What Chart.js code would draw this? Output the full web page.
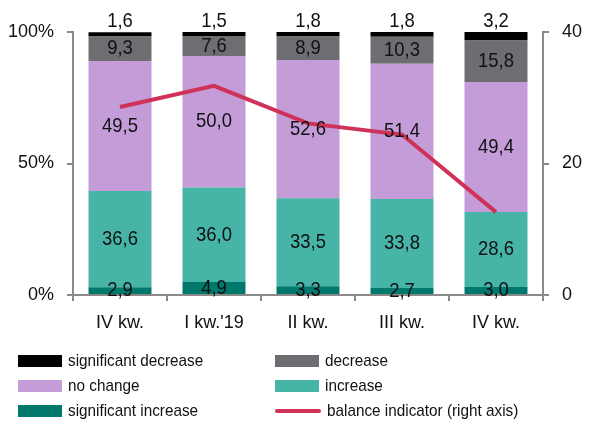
<!DOCTYPE html>
<html>
<head>
<meta charset="utf-8">
<script src="https://cdn.jsdelivr.net/npm/chart.js@4/dist/chart.umd.min.js"></script>
<style>
  html, body { margin: 0; padding: 0; background: #fff; }
  #wrap { position: relative; width: 589px; height: 428px; }
  #legend { position: absolute; left: 0; top: 0; width: 589px; height: 428px; pointer-events: none;
            font-family: "Liberation Sans", Arial, sans-serif; font-size: 17px; color: #111; }
  .item { position: absolute; display: flex; align-items: center; white-space: nowrap; }
  .item .t { display: inline-block; transform: scaleX(0.9); transform-origin: left center; }
  .box { width: 44px; height: 12px; margin-right: 6px; }
  .ln { width: 46px; height: 4px; border-radius: 2px; margin-right: 6px; }
</style>
</head>
<body>
<div id="wrap">
  <canvas id="chart" width="589" height="428"></canvas>
  <div id="legend"></div>
</div>
<script>
const categories = ['IV kw.', "I kw.'19", 'II kw.', 'III kw.', 'IV kw.'];
const sigIncrease = [2.9, 4.9, 3.3, 2.7, 3.0];
const increase = [36.6, 36.0, 33.5, 33.8, 28.6];
const noChange = [49.5, 50.0, 52.6, 51.4, 49.4];
const decrease = [9.3, 7.6, 8.9, 10.3, 15.8];
const sigDecrease = [1.6, 1.5, 1.8, 1.8, 3.2];
const balance = [28.6, 31.8, 26.1, 24.4, 12.6];

const FONT = '"Liberation Sans", Arial, sans-serif';
const axisGray = '#8a8a8a';

function barSet(label, data, color) {
    return {
        type: 'bar',
        label: label,
        data: data,
        backgroundColor: color,
        borderWidth: 0,
        yAxisID: 'y',
        stack: 's',
        categoryPercentage: 1,
        barPercentage: 0.67,
        order: 2
    };
}

// value labels drawn on the bars (slightly narrowed like the original)
const valueLabels = {
    id: 'valueLabels',
    afterDatasetsDraw(chart) {
        const ctx = chart.ctx;
        ctx.save();
        ctx.font = '21px ' + FONT;
        ctx.fillStyle = '#111';
        ctx.textAlign = 'center';
        ctx.textBaseline = 'middle';
        chart.data.datasets.forEach((ds, i) => {
            if (ds.type !== 'bar') return;
            const meta = chart.getDatasetMeta(i);
            meta.data.forEach((el, j) => {
                const p = el.getProps(['x', 'y', 'base'], true);
                const txt = ds.data[j].toFixed(1).replace('.', ',');
                let y = (p.y + p.base) / 2;
                if (ds.label === 'significant decrease') y = p.y - 11;
                ctx.save();
                ctx.translate(p.x, y);
                ctx.scale(0.88, 1);
                ctx.fillText(txt, 0, 0);
                ctx.restore();
            });
        });
        ctx.restore();
    }
};

const chart = new Chart(document.getElementById('chart').getContext('2d'), {
    data: {
        labels: categories,
        datasets: [
            {
                type: 'line',
                label: 'balance indicator (right axis)',
                data: balance,
                borderColor: '#cf3158',
                borderWidth: 4,
                pointRadius: 0,
                tension: 0,
                yAxisID: 'y2',
                order: 1
            },
            barSet('significant increase', sigIncrease, '#00786c'),
            barSet('increase', increase, '#46b5a7'),
            barSet('no change', noChange, '#c49cd8'),
            barSet('decrease', decrease, '#6e6e72'),
            barSet('significant decrease', sigDecrease, '#000000')
        ]
    },
    options: {
        responsive: false,
        animation: false,
        layout: {
            padding: { top: 32, left: 0, right: 0, bottom: 93 }
        },
        plugins: {
            legend: { display: false },
            tooltip: { enabled: false }
        },
        scales: {
            x: {
                stacked: true,
                offset: true,
                grid: {
                    offset: true,
                    drawOnChartArea: false,
                    color: axisGray,
                    lineWidth: 2,
                    tickLength: 6
                },
                border: { color: axisGray, width: 2 },
                ticks: {
                    color: '#111',
                    padding: 11,
                    font: { family: FONT, size: 18 }
                },
                afterFit(scale) { scale.height = 40; }
            },
            y: {
                position: 'left',
                stacked: true,
                min: 0,
                max: 100,
                grid: {
                    drawOnChartArea: false,
                    color: axisGray,
                    lineWidth: 2,
                    tickLength: 6
                },
                border: { color: axisGray, width: 2 },
                ticks: {
                    stepSize: 50,
                    color: '#111',
                    padding: 13,
                    font: { family: FONT, size: 18 },
                    callback: v => v + '%'
                },
                afterFit(scale) { scale.width = 73; }
            },
            y2: {
                position: 'right',
                min: 0,
                max: 40,
                grid: {
                    drawOnChartArea: false,
                    color: axisGray,
                    lineWidth: 2,
                    tickLength: 6
                },
                border: { color: axisGray, width: 2 },
                ticks: {
                    stepSize: 20,
                    color: '#111',
                    padding: 13,
                    font: { family: FONT, size: 18 }
                },
                afterFit(scale) { scale.width = 46; }
            }
        }
    },
    plugins: [valueLabels]
});

// legend in two columns, built from the datasets
const legendOrder = [
    ['significant decrease', 18, 361],
    ['decrease', 275, 361],
    ['no change', 18, 386],
    ['increase', 275, 386],
    ['significant increase', 18, 411],
    ['balance indicator (right axis)', 275, 411]
];
const legendEl = document.getElementById('legend');
legendOrder.forEach(([name, x, y]) => {
    const ds = chart.data.datasets.find(d => d.label === name);
    const item = document.createElement('div');
    item.className = 'item';
    item.style.left = x + 'px';
    item.style.top = (y - 10) + 'px';
    item.style.height = '20px';
    const mark = document.createElement('span');
    if (ds.type === 'line') {
        mark.className = 'ln';
        mark.style.background = ds.borderColor;
    } else {
        mark.className = 'box';
        mark.style.background = ds.backgroundColor;
    }
    const txt = document.createElement('span');
    txt.className = 't';
    txt.textContent = name;
    item.appendChild(mark);
    item.appendChild(txt);
    legendEl.appendChild(item);
});
</script>
</body>
</html>
